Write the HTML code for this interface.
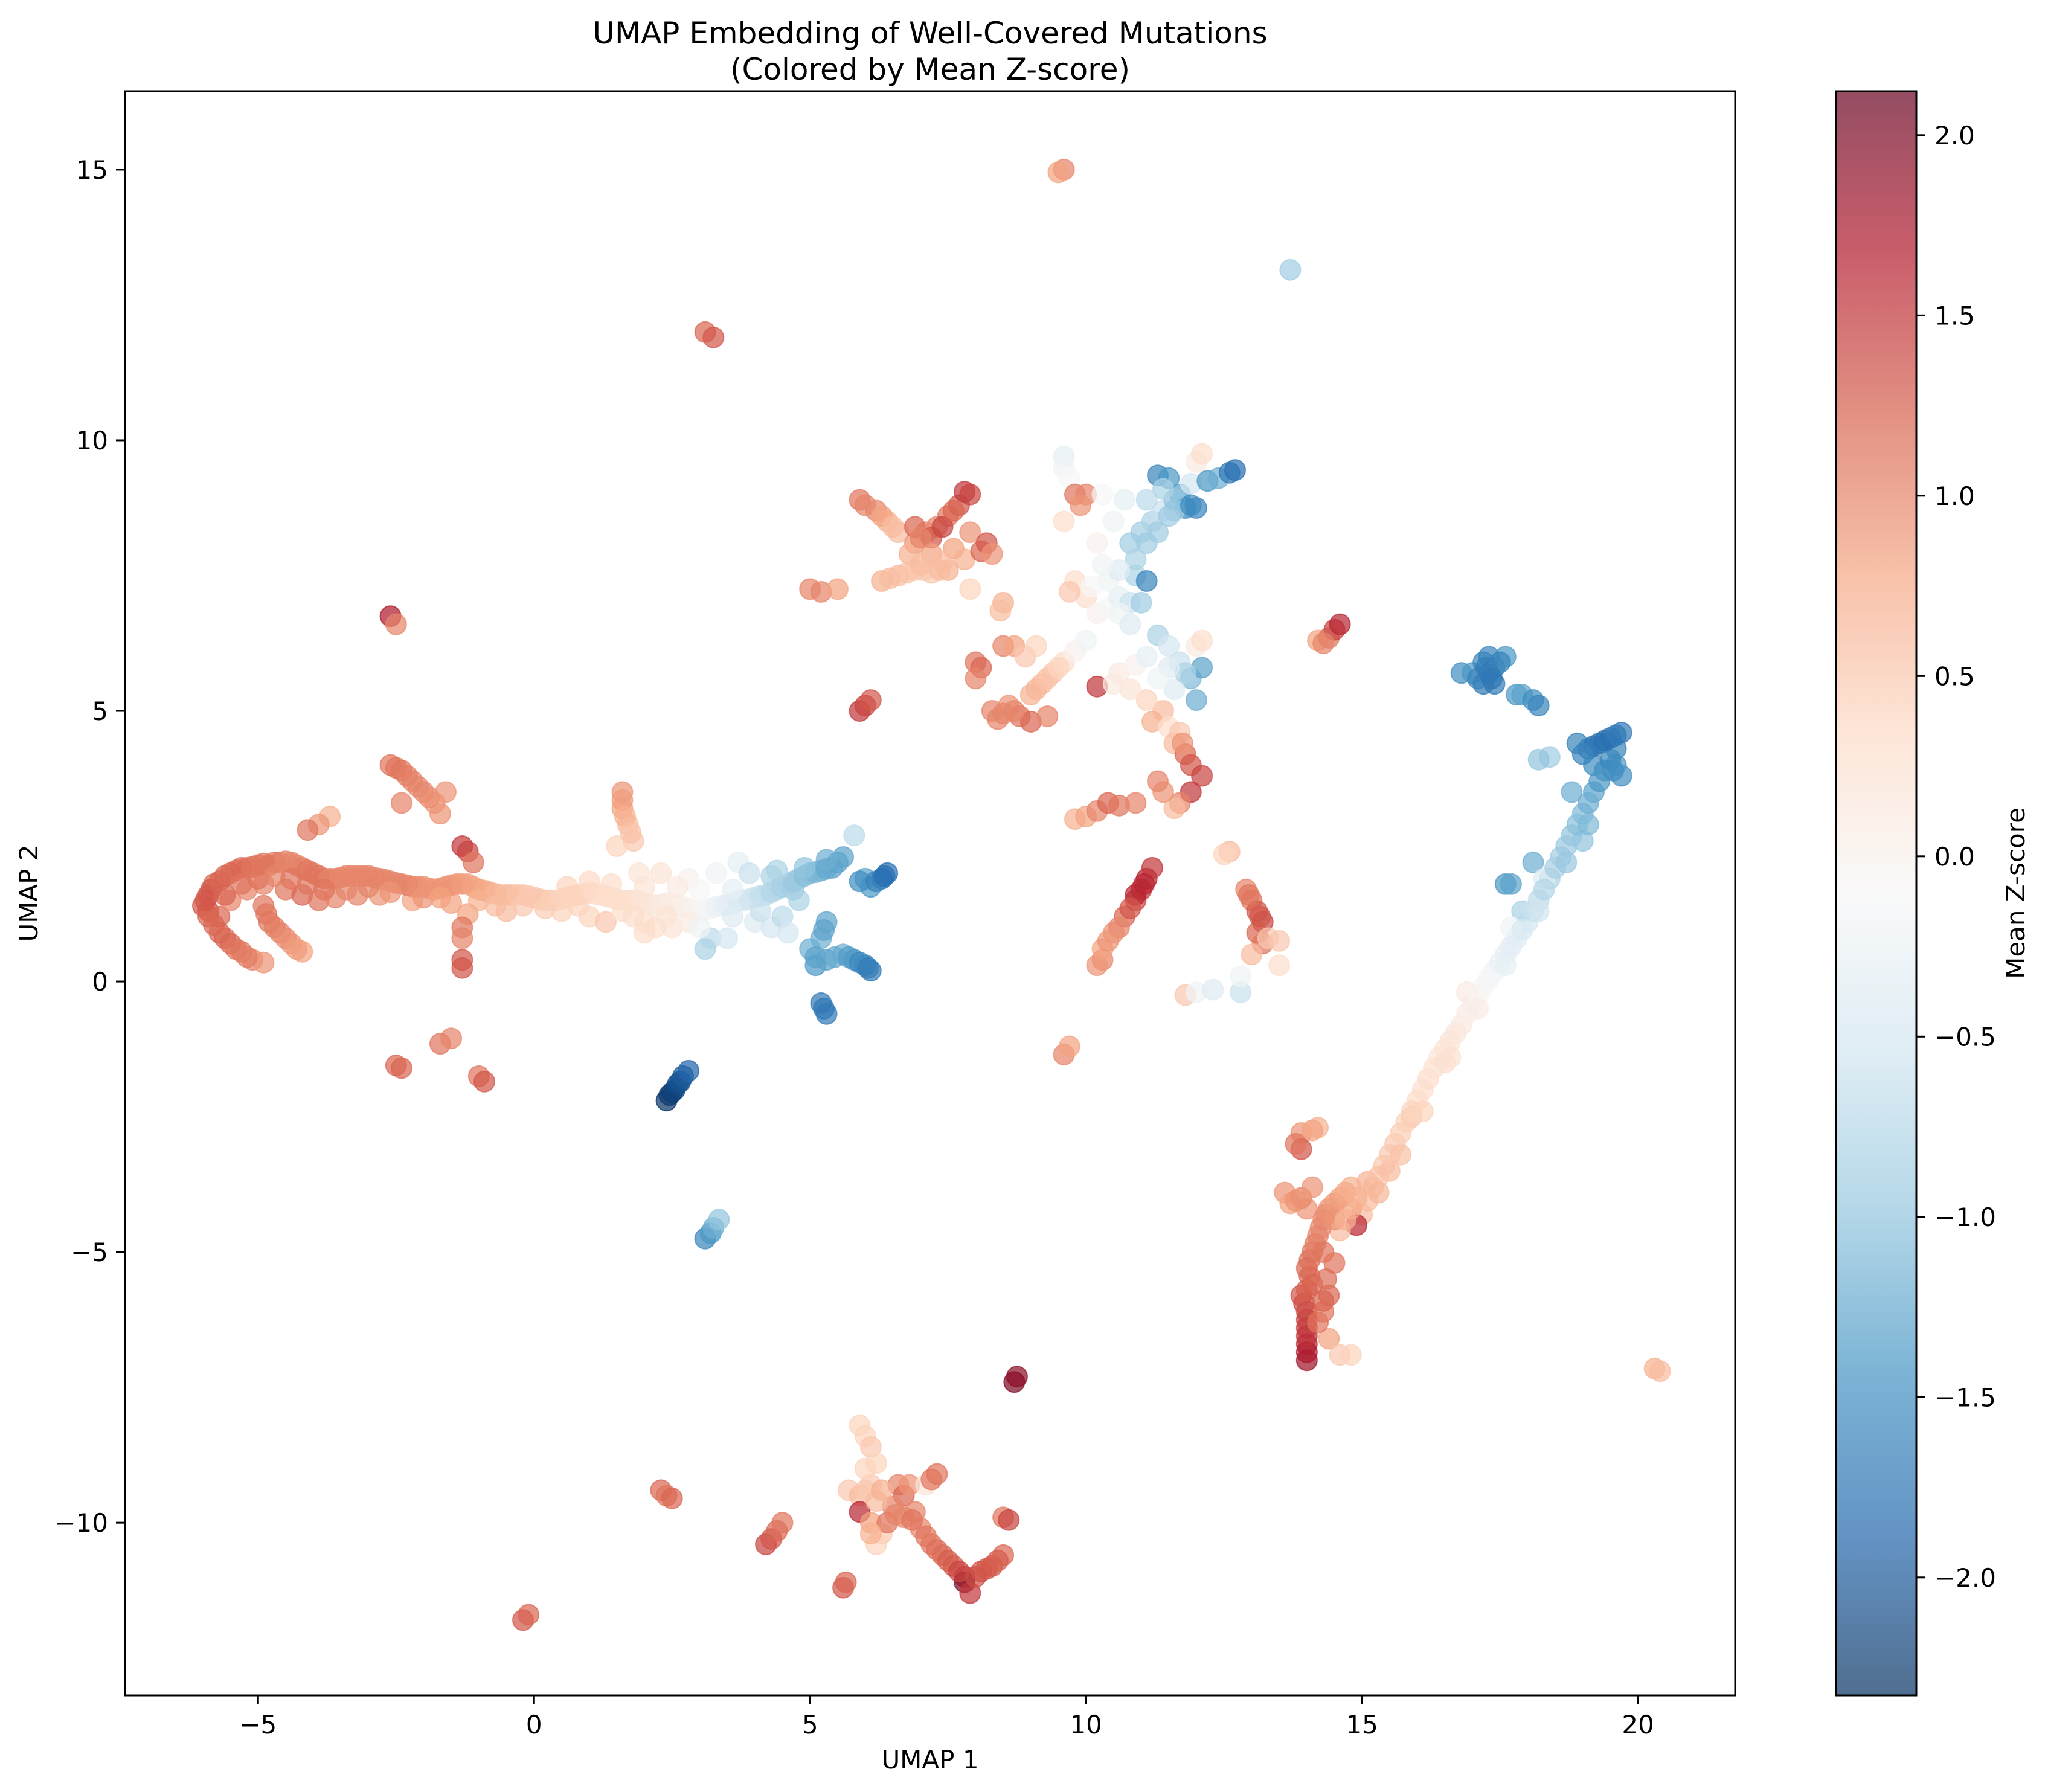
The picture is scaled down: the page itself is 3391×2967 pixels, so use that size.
<!DOCTYPE html>
<html><head><meta charset="utf-8"><style>
html,body{margin:0;padding:0;background:#fff;}
svg{display:block;font-family:"DejaVu Sans","Liberation Sans",sans-serif;}
</style></head><body>
<svg id="chart" width="3391" height="2967" viewBox="0 0 3391 2967" xmlns="http://www.w3.org/2000/svg">
<rect width="3391" height="2967" fill="#fff"/>
<g id="title">
<text x="1540" y="72" font-size="50" text-anchor="middle">UMAP Embedding of Well-Covered Mutations</text>
<text x="1540" y="132" font-size="50" text-anchor="middle">(Colored by Mean Z-score)</text>
</g>
<g id="points"></g>
<rect x="207" y="151" width="2666" height="2656" fill="none" stroke="#000" stroke-width="3"/>
<g id="xticks"></g>
<g id="yticks"></g>
<text x="1540" y="2928" font-size="42" text-anchor="middle">UMAP 1</text>
<text transform="translate(62,1479) rotate(-90)" font-size="42" text-anchor="middle">UMAP 2</text>
<defs><linearGradient id="cbgrad" x1="0" y1="1" x2="0" y2="0"></linearGradient></defs>
<rect x="3040" y="151" width="133" height="2656" fill="url(#cbgrad)" stroke="#000" stroke-width="3"/>
<g id="cbticks"></g>
<text transform="translate(3352,1479) rotate(-90)" font-size="42" text-anchor="middle">Mean Z-score</text>
</svg>
<script>
const NS="http://www.w3.org/2000/svg";
const xTicks=[-5,0,5,10,15,20];
const yTicks=[-10,-5,0,5,10,15];
const zTicks=[-2.0,-1.5,-1.0,-0.5,0.0,0.5,1.0,1.5,2.0];
const xDomain=[-7.41,21.76];
const yDomain=[-13.19,16.45];
const zDomain=[-2.327,2.122];
const cmapStops=["#053061","#2166ac","#4393c3","#92c5de","#d1e5f0","#f7f7f7","#fddbc7","#f4a582","#d6604d","#b2182b","#67001f"];
// each point: [umap1, umap2, meanZ]
const mainBand=[[-6,1.4,1.3],[-5.9,1.6,1.3],[-5.8,1.8,1.2],[-5.6,1.95,1.2],[-5.4,2.05,1.1],[-5.2,2.1,1.1],[-5,2.15,1.1],[-4.8,2.15,1.1],[-4.6,2.2,1.0],[-4.4,2.2,1.0],[-4.2,2.1,1.1],[-4,2.0,1.1],[-3.8,1.9,1.1],[-3.6,1.9,1.0],[-3.4,1.95,1.0],[-3.2,1.95,1.0],[-3,1.95,1.0],[-2.8,1.9,1.0],[-2.6,1.85,1.0],[-2.4,1.8,1.0],[-2.2,1.75,1.0],[-2,1.75,0.9],[-1.8,1.7,0.9],[-1.6,1.75,0.9],[-1.4,1.8,0.9],[-1.2,1.8,0.8],[-1,1.7,0.8],[-0.8,1.65,0.7],[-0.6,1.6,0.6],[-0.4,1.6,0.6],[-0.2,1.6,0.5],[0,1.55,0.5],[0.2,1.5,0.5],[0.4,1.5,0.4],[0.6,1.55,0.4],[0.8,1.6,0.4],[1,1.65,0.35],[1.2,1.6,0.3],[1.4,1.55,0.3],[1.6,1.5,0.3],[1.8,1.5,0.25],[2,1.45,0.2],[2.2,1.4,0.15],[2.4,1.45,0.1],[2.6,1.4,0.05],[2.8,1.35,0],[3,1.3,-0.1],[3.2,1.35,-0.2],[3.4,1.4,-0.3],[3.6,1.45,-0.4],[3.8,1.5,-0.5],[4,1.55,-0.6],[4.2,1.6,-0.7],[4.4,1.7,-0.8],[4.6,1.8,-0.9],[4.8,1.9,-1.0],[5,2.0,-1.1],[5.2,2.05,-1.2],[5.4,2.1,-1.3],[5.6,2.3,-1.3],
[-5.9,1.3,1.3],[-5.7,1.2,1.2],[-5.5,1.5,1.0],[-5.2,1.7,1.0],[-4.9,1.8,1.0],[-4.5,1.7,1.1],[-4.2,1.6,1.2],[-3.9,1.5,1.1],[-3.6,1.55,1.0],[-3.2,1.6,1.0],[-2.8,1.6,0.9],[-2.2,1.5,0.8],[-1.5,1.45,0.8],[-1.2,1.25,0.8],[-0.5,1.3,0.6],[0.5,1.3,0.4],[1,1.2,0.4],[1.3,1.1,0.5],[2,1.1,0.3],[2.5,1.0,0.2],[1.9,2.0,0.2],[2.3,2.0,0.2],[2.8,1.9,0],[3.3,2.0,-0.2],[3.7,2.2,-0.3],[4.0,1.1,-0.4],[4.3,1.0,-0.5],[3.2,0.8,-0.7],[3.1,0.6,-0.8],[3.5,0.8,-0.5],[4.5,1.2,-0.7],[4.8,1.5,-0.8],[5.8,2.7,-0.7],[4.6,0.9,-0.5],
[-5.9,1.2,1.2],[-5.7,0.9,1.2],[-5.5,0.7,1.2],[-5.3,0.55,1.1],[-5.1,0.4,1.0],[-4.9,0.35,0.9],[-4.9,1.4,1.1],[-4.8,1.1,1.1],[-4.6,0.9,1.0],[-4.4,0.7,0.9],[-4.2,0.55,0.8],[-3.7,3.05,0.7],[-3.9,2.9,0.9],[-4.1,2.8,1.1],
[-2.6,4.0,1.1],[-2.4,3.9,1.1],[-2.2,3.7,1.0],[-2,3.5,1.0],[-1.8,3.3,0.9],[-1.7,3.1,0.9],[-2.4,3.3,1.0],[-1.3,2.5,1.5],[-1.2,2.4,1.4],[-1.1,2.2,1.1],[-1.3,1.0,1.1],[-1.3,0.8,1.0],[-1.3,0.4,1.3],[-1.3,0.25,1.3],
[1.6,3.5,0.9],[1.6,3.2,0.8],[1.7,2.9,0.6],[1.8,2.6,0.5],[1.5,2.5,0.4],[2.2,1.0,0.3],[2.0,0.9,0.3],
[5.3,1.1,-1.3],[5.2,0.8,-1.2],[5.0,0.6,-1.2],[5.1,0.3,-1.4],[5.3,0.4,-1.3],[5.6,0.5,-1.2],[5.8,0.4,-1.5],[6.0,0.3,-1.6],[6.1,0.2,-1.7],[5.2,-0.4,-1.7],[5.3,-0.6,-1.7],[6.0,1.9,-1.3],[6.1,1.75,-1.4],[6.3,1.9,-1.8],[6.4,2.0,-1.8],[5.9,1.85,-1.5],[4.7,1.7,-0.9],[4.3,1.95,-0.8],[3.9,2.0,-0.6]];
const mainBandFill=[[-5.95,1.5,1.3],[-5.85,1.7,1.3],[-5.7,1.85,1.2],[-5.5,2.0,1.2],[-5.3,2.1,1.2],[-5.1,2.12,1.1],[-4.9,2.18,1.1],[-4.7,2.2,1.1],[-4.5,2.22,1.0],[-4.3,2.15,1.0],[-4.1,2.05,1.1],[-3.9,1.95,1.1],[-3.7,1.9,1.0],[-3.5,1.92,1.0],[-3.3,1.95,1.0],[-3.1,1.95,1.0],[-2.9,1.92,1.0],[-2.7,1.88,1.0],[-2.5,1.82,1.0],[-2.3,1.78,1.0],[-2.1,1.75,0.95],[-1.9,1.72,0.9],[-1.7,1.72,0.9],[-1.5,1.78,0.9],[-1.3,1.8,0.85],[-1.1,1.75,0.8],[-0.9,1.68,0.75],[-0.7,1.62,0.65],[-0.5,1.6,0.6],[-0.3,1.6,0.55],[-0.1,1.58,0.5],[0.1,1.52,0.5],[0.3,1.5,0.45],[0.5,1.52,0.4],[0.7,1.58,0.4],[0.9,1.62,0.38],[1.1,1.62,0.32],[1.3,1.58,0.3],[1.5,1.52,0.3],[1.7,1.5,0.28],[1.9,1.48,0.22],[2.1,1.42,0.18],[2.3,1.42,0.12],[2.5,1.42,0.08],[2.7,1.38,0.02],[2.9,1.32,-0.05],[3.1,1.32,-0.15],[3.3,1.38,-0.25],[3.5,1.42,-0.35],[3.7,1.48,-0.45],[3.9,1.52,-0.55],[4.1,1.58,-0.65],[4.3,1.65,-0.75],[4.5,1.75,-0.85],[4.7,1.85,-0.95],[4.9,1.95,-1.05],[5.1,2.02,-1.15],[5.3,2.08,-1.25],[5.5,2.2,-1.3],
[-5.6,1.6,1.2],[-5.3,1.8,1.1],[-5.0,1.9,1.1],[-4.7,1.95,1.0],[-4.4,1.9,1.1],[-4.1,1.8,1.1],[-3.8,1.7,1.1],[-3.4,1.7,1.0],[-3.0,1.75,1.0],[-2.6,1.65,0.9],[-2.0,1.55,0.9],[-1.7,1.55,0.8],[-1.0,1.5,0.7],[-0.7,1.4,0.6],[-0.2,1.4,0.5],[0.2,1.35,0.45],[0.8,1.4,0.4],[1.6,1.3,0.3],[1.8,1.2,0.3],[2.4,1.2,0.2],[2.8,1.1,0.1],[3.0,1.0,-0.2],[3.6,1.2,-0.4],[4.1,1.3,-0.6],[3.6,1.7,-0.3],[3.0,1.7,-0.1],[2.6,1.75,0.1],[2.0,1.75,0.2],[1.4,1.8,0.3],[1.0,1.85,0.35],[0.6,1.75,0.4],[4.4,2.05,-0.8],[4.9,2.1,-1.0],[5.3,2.25,-1.2],
[-5.8,1.05,1.2],[-5.6,0.8,1.2],[-5.4,0.6,1.1],[-5.2,0.45,1.05],[-4.85,1.25,1.1],[-4.7,1.0,1.05],[-4.5,0.8,0.95],[-4.3,0.6,0.85],[-2.5,3.95,1.1],[-2.3,3.8,1.05],[-2.1,3.6,1.0],[-1.9,3.4,0.95],[-1.6,3.5,0.9],[1.6,3.35,0.85],[1.65,3.05,0.7],[1.75,2.75,0.55],
[5.25,0.95,-1.3],[5.1,0.45,-1.3],[5.45,0.45,-1.25],[5.7,0.45,-1.35],[5.9,0.35,-1.55],[6.05,0.25,-1.65],[5.25,-0.5,-1.7],[6.2,1.85,-1.6],[6.35,1.95,-1.8]];
const isolated=[[-2.6,6.75,1.7],[-2.5,6.6,1.0],[-2.5,-1.55,1.2],[-2.4,-1.6,1.2],[-1.7,-1.15,1.1],[-1.5,-1.05,1.0],[-1.0,-1.75,1.1],[-0.9,-1.85,1.3],[2.4,-2.2,-2.3],[2.45,-2.1,-2.25],[2.5,-2.05,-2.2],[2.55,-2.0,-2.15],[2.6,-1.9,-2.1],[2.65,-1.85,-2.05],[2.7,-1.75,-2.0],[2.8,-1.65,-1.9],[3.1,-4.75,-1.6],[3.2,-4.65,-1.4],[3.25,-4.55,-1.2],[3.35,-4.4,-1.0],[3.1,12.0,1.2],[3.25,11.9,1.3],[-0.2,-11.8,1.3],[-0.1,-11.7,1.2],[9.6,15.0,1.0],[9.5,14.95,0.8],[13.7,13.15,-0.9],[20.3,-7.15,0.7],[20.4,-7.2,0.6],[5.9,5.0,1.5],[6.0,5.1,1.4],[6.1,5.2,1.3],[9.6,-1.35,1.0],[9.7,-1.2,0.8],[8.7,-7.4,2.0],[8.75,-7.3,1.9]];
const upperCluster=[[5.0,7.25,1.0],[5.2,7.2,1.0],[5.5,7.25,0.8],[5.9,8.9,1.1],[6.2,8.7,1.0],[6.4,8.5,0.7],[6.6,8.3,0.6],[6.3,7.4,0.7],[6.6,7.5,0.6],[6.9,7.6,0.5],[7.2,7.55,0.5],[7.5,7.6,0.7],[6.9,8.1,0.9],[7.1,8.3,0.9],[7.3,8.4,1.0],[7.5,8.6,1.1],[7.7,8.8,1.3],[7.8,9.05,1.5],[7.9,9.0,1.4],[7.6,8.0,0.8],[7.8,7.8,0.7],[6.9,8.4,1.2],[7.2,8.2,1.3],[7.4,8.4,1.4],[7.9,8.3,0.9],[7.2,7.9,0.8],[6.8,7.9,0.7],[8.1,7.95,1.2],[8.2,8.1,1.3],[8.3,7.9,0.9],[7.9,7.25,0.4],[8.5,7.0,0.7],[8.45,6.85,0.6],
[6.0,8.8,1.0],[6.3,8.6,0.8],[6.5,8.4,0.6],[6.45,7.45,0.6],[6.75,7.55,0.55],[7.05,7.6,0.5],[7.35,7.6,0.6],[7.0,8.2,1.0],[7.6,8.7,1.2],[7.0,7.7,0.6],[7.4,7.75,0.6],
[8.0,5.9,1.1],[8.1,5.8,1.2],[8.0,5.6,1.0],[8.5,6.2,1.0],[8.7,6.2,0.8],[8.9,6.0,0.5],[9.1,6.2,0.4],[8.3,5.0,1.0],[8.4,4.85,1.0],[8.6,5.1,0.9],[8.8,4.9,1.1],[9.0,4.8,1.2],[9.3,4.9,1.0],[9.0,5.3,0.7],[9.2,5.5,0.6],[9.4,5.7,0.5],[9.6,5.9,0.3],[9.8,6.1,0.0],[10,6.3,-0.2],[8.5,4.95,1.0],[8.7,5.0,1.0],[9.1,5.4,0.65],[9.3,5.6,0.55],[9.5,5.8,0.4],
[9.6,9.7,-0.3],[9.6,9.5,-0.2],[9.7,9.3,-0.1],[9.8,9.0,1.1],[10.0,9.0,1.0],[9.9,8.8,0.9],[9.6,8.5,0.3],[9.8,7.4,0.3],[10.0,7.1,0.3],[9.7,7.2,0.5],[10.2,6.8,0.0],[10.4,6.9,-0.1],[10.4,7.4,-0.2],[10.6,7.1,-0.3],[10.8,7.0,-0.6],[10.9,7.5,-0.8],[11.1,7.4,-1.6],[10.8,8.1,-0.9],[11.0,8.3,-0.9],[11.2,8.5,-0.8],[11.4,8.7,-0.6],[11.1,8.9,-0.7],[11.3,9.35,-1.6],[11.5,9.3,-1.4],[11.7,9.0,-1.3],[11.8,8.75,-1.6],[12.0,8.75,-1.6],[11.9,9.2,-0.5],[12.0,9.6,0.1],[12.1,9.75,0.3],[11.5,8.6,-0.9],[12.2,9.25,-1.4],[12.4,9.3,-1.2],[12.6,9.4,-1.7],[12.7,9.45,-1.8],[10.3,9.0,-0.1],[10.7,8.9,-0.3],[10.5,8.5,-0.2],[10.2,8.1,0.0],[11.6,8.7,-0.9],
[10.9,7.8,-0.8],[11.1,8.1,-0.9],[11.3,8.3,-0.9],[11.6,8.9,-1.0],[11.9,8.8,-1.5],[11.4,9.1,-0.8],[10.6,7.6,-0.4],[10.3,7.7,-0.2],[10.1,7.3,-0.1],[10.6,6.8,-0.2],[10.8,6.6,-0.4],[11.0,7.0,-0.9],
[10.2,5.45,1.5],[10.6,5.7,0.1],[10.9,5.85,0.0],[11.1,6.0,-0.3],[11.3,6.4,-0.8],[11.5,6.2,-0.5],[11.7,5.9,-0.6],[11.9,5.6,-1.1],[12.0,5.2,-1.2],[12.1,5.8,-1.3],[12.0,6.2,0.1],[12.1,6.3,0.3],[11.6,5.4,-0.4],[11.4,5.0,0.6],[11.2,4.8,0.7],[11.5,4.7,0.3],[11.6,4.4,0.6],[11.8,4.2,1.2],[11.9,4.0,1.3],[12.1,3.8,1.4],[11.9,3.5,1.5],[11.7,3.3,1.0],[11.6,3.2,0.6],[11.4,3.5,0.9],[11.3,3.7,1.0],[11.1,5.2,0.4],[10.8,5.4,0.2],[10.5,5.5,0.1],[11.8,5.7,-0.8],[11.5,5.8,-0.4],[11.3,5.6,-0.2],[11.7,4.6,0.5],[11.75,4.4,0.9],
[9.8,3.0,0.7],[10.0,3.05,0.8],[10.2,3.15,1.0],[10.4,3.3,1.2],[10.6,3.25,1.1],[10.9,3.3,1.0],[10.3,0.4,1.0],[10.2,0.3,0.9],[10.3,0.6,0.8],[10.5,0.9,0.9],[10.7,1.2,1.2],[10.9,1.5,1.4],[11.0,1.7,1.5],[11.1,1.9,1.6],[11.2,2.1,1.5],[10.9,1.6,1.6],[10.6,1.0,1.0],[10.4,0.75,0.9],[10.8,1.35,1.3],[11.05,1.8,1.6],
[12.9,1.7,1.0],[13.0,1.5,1.1],[13.1,1.3,1.3],[13.2,1.1,1.4],[13.1,0.9,1.2],[13.2,0.7,1.1],[13.0,0.5,0.6],[13.3,0.8,0.5],[13.5,0.75,0.5],[12.6,2.4,0.6],[12.5,2.35,0.4],[11.8,-0.25,0.5],[12.0,-0.2,-0.2],[12.3,-0.15,-0.4],[12.8,-0.2,-0.6],[12.8,0.1,-0.2],[13.5,0.3,0.3],[12.95,1.6,1.1],[13.15,1.2,1.3],
[14.2,6.3,0.8],[14.4,6.35,1.1],[14.5,6.5,1.4],[14.6,6.6,1.6],[14.3,6.25,1.0]];
const rightBand=[[15.0,-4.3,0.6],[15.2,-3.8,0.6],[15.4,-3.4,0.5],[15.6,-3.0,0.5],[15.8,-2.6,0.4],[16.0,-2.2,0.3],[16.2,-1.8,0.3],[16.4,-1.4,0.2],[16.6,-1.1,0.2],[16.8,-0.8,0.1],[17.0,-0.4,0.0],[17.2,-0.1,-0.1],[17.4,0.2,-0.2],[17.6,0.5,-0.3],[17.8,0.8,-0.4],[18.0,1.1,-0.5],[18.2,1.5,-0.7],[18.4,1.9,-0.8],[18.6,2.3,-0.9],[18.8,2.7,-1.0],[19.0,3.1,-1.1],[19.2,3.5,-1.3],[19.4,3.9,-1.5],[19.6,4.3,-1.6],[19.7,4.6,-1.7],[19.5,4.5,-1.7],[19.3,4.4,-1.8],[19.1,4.3,-1.7],[18.9,4.4,-1.6],[19.7,3.8,-1.5],[19.6,4.0,-1.4],[19.2,4.0,-1.5],[18.8,3.5,-1.2],[18.4,4.15,-0.9],[18.2,4.1,-1.0],[18.1,2.2,-1.2],[17.6,1.8,-1.4],[17.7,1.8,-1.3],[19.0,2.6,-1.0],[18.3,1.9,-0.4],[17.9,1.3,-0.8],[17.7,1.0,-0.2],[16.9,-0.2,0.1],[16.5,-1.5,0.3],[15.9,-2.5,0.5],[15.5,-3.5,0.6],[15.1,-3.7,0.7],
[15.1,-4.05,0.6],[15.3,-3.6,0.55],[15.5,-3.2,0.5],[15.7,-2.8,0.45],[15.9,-2.4,0.4],[16.1,-2.0,0.3],[16.3,-1.6,0.25],[16.5,-1.25,0.2],[16.7,-0.95,0.15],[16.9,-0.6,0.05],[17.1,-0.25,-0.05],[17.3,0.05,-0.15],[17.5,0.35,-0.25],[17.7,0.65,-0.35],[17.9,0.95,-0.45],[18.1,1.3,-0.6],[18.3,1.7,-0.75],[18.5,2.1,-0.85],[18.7,2.5,-0.95],[18.9,2.9,-1.05],[19.1,3.3,-1.2],[19.3,3.7,-1.4],[19.5,4.1,-1.55],[19.4,4.45,-1.8],[19.2,4.35,-1.75],[19.0,4.2,-1.6],[19.6,4.55,-1.7],[19.55,3.9,-1.5],[15.3,-3.9,0.65],[15.7,-3.2,0.55],[16.1,-2.4,0.4],[16.6,-1.4,0.25],[17.1,-0.5,0.05],[17.6,0.3,-0.3],[18.2,1.3,-0.55],[18.7,2.2,-0.95],[19.1,2.9,-1.1],
[16.8,5.7,-1.5],[17.0,5.7,-1.4],[17.2,5.9,-1.6],[17.3,6.0,-1.6],[17.4,5.8,-1.7],[17.2,5.5,-1.7],[17.4,5.5,-1.7],[17.1,5.6,-1.6],[17.6,6.0,-1.4],[17.8,5.3,-1.4],[17.9,5.3,-1.3],[18.1,5.2,-1.5],[18.2,5.1,-1.6],[17.3,5.7,-1.7],[17.25,5.8,-1.65],[17.5,5.9,-1.6],[17.35,5.6,-1.7],
[14.0,-7.0,1.8],[14.0,-6.7,1.6],[14.0,-6.4,1.5],[14.0,-6.1,1.4],[13.9,-5.8,1.3],[14.1,-5.6,1.2],[14.0,-5.3,1.2],[14.1,-5.0,1.1],[14.2,-4.7,1.0],[14.3,-4.4,1.0],[14.4,-4.2,0.9],[14.6,-4.0,0.8],[14.8,-3.8,0.7],[14.5,-5.2,1.1],[14.4,-5.8,1.2],[14.3,-6.1,1.1],[14.4,-6.6,0.8],[14.6,-6.9,0.5],[14.8,-6.9,0.4],[13.9,-2.8,0.9],[13.9,-3.1,1.3],[14.2,-2.7,0.7],[13.6,-3.9,0.9],[13.7,-4.1,0.8],[14.9,-4.5,1.6],[14.6,-4.6,0.6],[14.0,-4.2,0.9],[13.9,-4.0,1.0],[14.1,-3.8,0.9],
[14.0,-6.85,1.7],[14.0,-6.55,1.55],[14.0,-6.25,1.45],[13.95,-5.95,1.35],[14.0,-5.7,1.25],[14.05,-5.45,1.2],[14.05,-5.15,1.15],[14.15,-4.85,1.05],[14.25,-4.55,1.0],[14.35,-4.3,0.95],[14.5,-4.1,0.85],[14.7,-3.9,0.75],[14.3,-5.0,1.1],[14.35,-5.5,1.15],[14.3,-5.9,1.2],[14.2,-6.3,1.1],[14.5,-4.4,0.9],[14.8,-4.2,0.8],[14.9,-4.0,0.7],[13.8,-3.0,1.1],[14.1,-2.75,0.8],[13.8,-4.05,0.9],[14.7,-4.4,0.7]];
const bottomCluster=[[5.9,-8.2,0.4],[6.0,-8.4,0.4],[6.1,-8.6,0.5],[5.7,-9.4,0.5],[5.9,-9.5,0.6],[6.1,-9.3,0.5],[5.9,-9.8,1.6],[6.1,-10.0,0.8],[6.3,-10.2,0.5],[6.2,-10.4,0.4],[6.6,-9.3,1.0],[6.7,-9.5,1.2],[6.8,-9.3,0.9],[6.5,-9.7,1.0],[6.4,-10.0,1.1],[6.9,-9.8,1.0],[7.1,-9.3,0.2],[7.2,-9.2,1.1],[7.3,-9.1,1.1],[7.0,-10.1,1.0],[7.2,-10.4,1.1],[7.4,-10.6,1.2],[7.6,-10.8,1.3],[7.8,-11.0,1.5],[7.8,-11.1,2.0],[7.9,-11.3,1.5],[8.1,-10.9,1.3],[8.3,-10.8,1.3],[8.5,-10.6,1.2],[8.5,-9.9,1.1],[8.6,-9.95,1.4],[5.6,-11.2,1.3],[5.65,-11.1,1.2],[4.2,-10.4,1.4],[4.3,-10.3,1.3],[4.4,-10.15,1.2],[4.5,-10.0,1.1],[2.3,-9.4,1.2],[2.4,-9.5,1.1],[2.5,-9.55,1.2],
[6.0,-9.4,0.5],[6.2,-9.6,0.6],[6.3,-9.4,0.7],[6.55,-9.85,1.0],[6.7,-9.9,1.0],[6.85,-9.95,1.1],[7.1,-10.25,1.1],[7.3,-10.5,1.15],[7.5,-10.7,1.25],[7.7,-10.9,1.4],[8.0,-11.0,1.35],[8.2,-10.85,1.3],[8.4,-10.7,1.25],[6.2,-8.9,0.4],[6.0,-9.0,0.4],[6.1,-10.2,0.7]];

const L=207,R=2873,T=151,B=2807;
function sx(v){return L+(v-xDomain[0])/(xDomain[1]-xDomain[0])*(R-L);}
function sy(v){return B-(v-yDomain[0])/(yDomain[1]-yDomain[0])*(B-T);}
function sz(v){return B-(v-zDomain[0])/(zDomain[1]-zDomain[0])*(B-T);}
function hex(h){return [parseInt(h.substr(1,2),16),parseInt(h.substr(3,2),16),parseInt(h.substr(5,2),16)];}
function cmap(z){let t=(z-zDomain[0])/(zDomain[1]-zDomain[0]);t=Math.max(0,Math.min(1,t));
 const n=cmapStops.length-1,i=Math.min(n-1,Math.floor(t*n)),f=t*n-i;const a=hex(cmapStops[i]),b=hex(cmapStops[i+1]);
 return "rgb("+a.map((c,k)=>Math.round(c+(b[k]-c)*f)).join(",")+")";}
function mk(tag,attrs,parent){const e=document.createElementNS(NS,tag);for(const k in attrs)e.setAttribute(k,attrs[k]);parent.appendChild(e);return e;}

const grad=document.getElementById("cbgrad");
cmapStops.forEach((c,i)=>{mk("stop",{offset:(i/(cmapStops.length-1)),"stop-color":c,"stop-opacity":0.7},grad);});

const pg=document.getElementById("points");
const groups=[["main-band",mainBand],["main-band",mainBandFill],["isolated",isolated],["upper-cluster",upperCluster],["right-band",rightBand],["bottom-cluster",bottomCluster]];
groups.forEach(([nm,arr])=>{arr.forEach(p=>{const col=cmap(p[2]);
 const c=mk("circle",{cx:sx(p[0]).toFixed(1),cy:sy(p[1]).toFixed(1),r:17,fill:col,stroke:col,"stroke-width":2,"fill-opacity":0.7,"stroke-opacity":0.7},pg);
 
 
});});

const xg=document.getElementById("xticks");
xTicks.forEach(v=>{const x=sx(v);
 const ln=mk("line",{x1:x,x2:x,y1:B,y2:B+15,stroke:"#000","stroke-width":3},xg);
 
 
 const t=mk("text",{x:x,y:2870,"font-size":42,"text-anchor":"middle"},xg);t.textContent=(v<0?"\u2212"+(-v):v);
 
 });
const yg=document.getElementById("yticks");
yTicks.forEach(v=>{const y=sy(v);
 const ln=mk("line",{x1:L-15,x2:L,y1:y,y2:y,stroke:"#000","stroke-width":3},yg);
 
 
 const t=mk("text",{x:L-28,y:y+15,"font-size":42,"text-anchor":"end"},yg);t.textContent=(v<0?"\u2212"+(-v):v);
 
 });
const cg=document.getElementById("cbticks");
zTicks.forEach(v=>{const y=sz(v);
 const ln=mk("line",{x1:3173,x2:3188,y1:y,y2:y,stroke:"#000","stroke-width":3},cg);
 
 
 const t=mk("text",{x:3203,y:y+15,"font-size":42},cg);t.textContent=(v<0?"\u2212":"")+Math.abs(v).toFixed(1);
 
 });
</script>
</body></html>
